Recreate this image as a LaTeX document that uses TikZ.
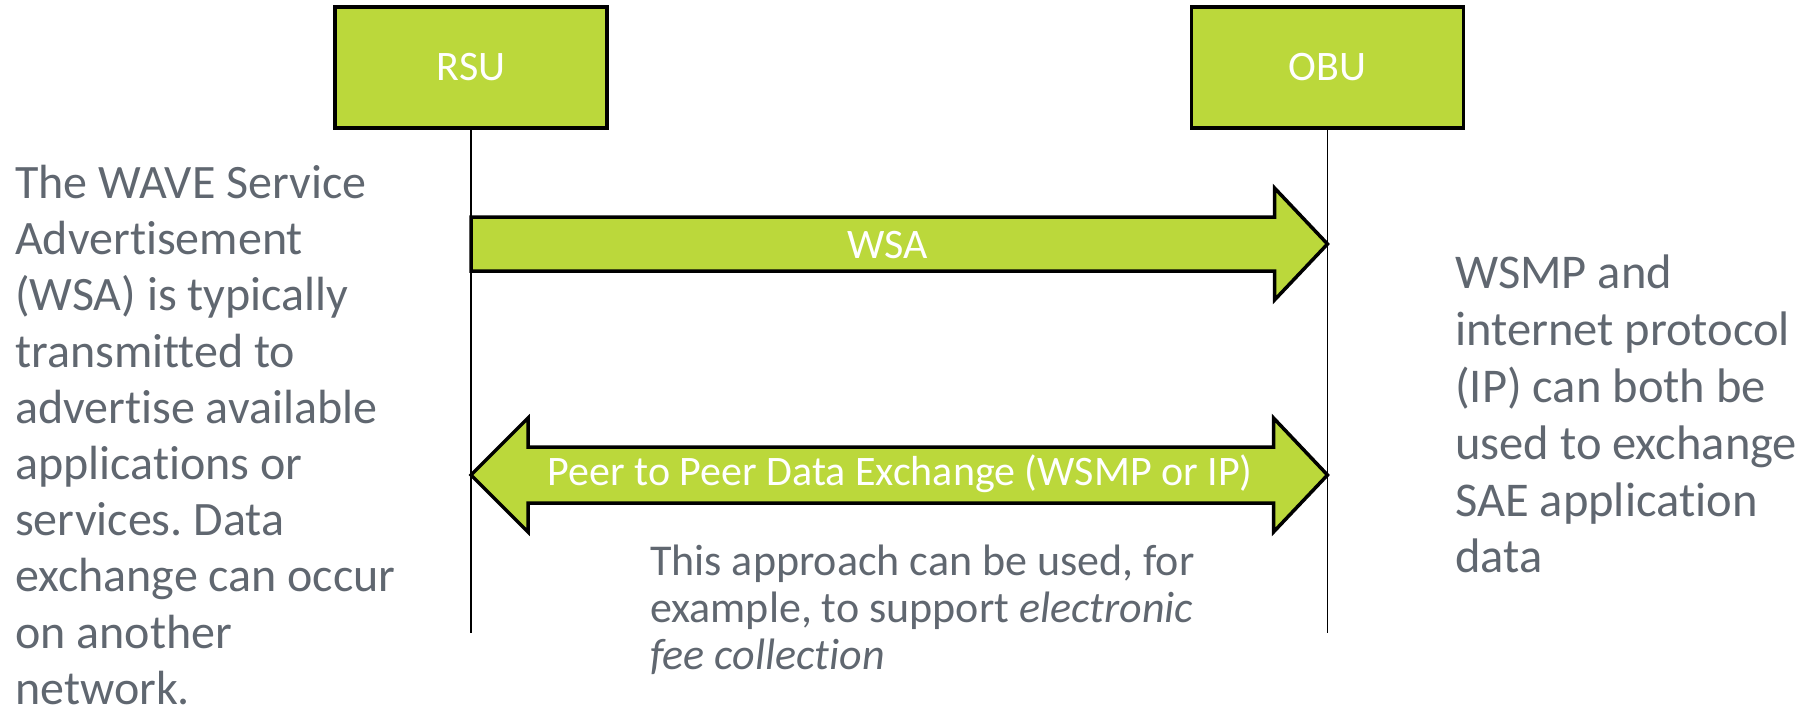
\documentclass[tikz,border=0pt]{standalone}
\usepackage{fontspec}
\setmainfont{Carlito}[Ligatures=NoCommon]
\usetikzlibrary{calc}
\definecolor{leaf}{RGB}{187,216,59}
\definecolor{note}{RGB}{96,103,112}
\frenchspacing

\tikzset{
  entity/.style={draw=black, line width=3.5pt, fill=leaf, text=white,
    minimum width=272pt, minimum height=121pt, inner sep=0pt,
    font=\fontsize{42}{50}\selectfont},
  lifeline/.style={draw=black, line width=1.5pt},
  blockarrow/.style={draw=black, line width=3.5pt, fill=leaf, line join=miter},
  arrowlabel/.style={text=white, inner sep=0pt, font=\fontsize{42}{50}\selectfont},
  sidenote/.style={text=note, inner sep=0pt, align=left, anchor=north west},
  footnote/.style={text=note, inner sep=0pt, align=left, anchor=north west,
    font=\fontsize{44}{47}\selectfont}
}

\begin{document}
\begin{tikzpicture}[x=1pt, y=-1pt]
  \useasboundingbox (0,0) rectangle (1810,721);

  % the two communicating units
  \node[entity] (rsu) at (471,67.5) {RSU};
  \node[entity] (obu) at (1327.5,67.5) {OBU};

  % lifelines
  \coordinate (rsuEnd) at (rsu.south |- 0,633);
  \coordinate (obuEnd) at (obu.south |- 0,633);
  \draw[lifeline] (rsu.south) -- (rsuEnd);
  \draw[lifeline] (obu.south) -- (obuEnd);

  % WSA: one-way block arrow from RSU to OBU
  \coordinate (wsaL) at (rsu.south |- 0,244);
  \coordinate (wsaR) at (obu.south |- 0,244);
  \draw[blockarrow]
    ($(wsaL)+(0,-27)$) -- ($(wsaR)+(-53,-27)$) -- ($(wsaR)+(-53,-56)$)
    -- (wsaR) -- ($(wsaR)+(-53,56)$) -- ($(wsaR)+(-53,27)$)
    -- ($(wsaL)+(0,27)$) -- cycle;
  \node[arrowlabel] (wsa) at (888,245) {WSA};

  % peer-to-peer exchange: two-way block arrow
  \coordinate (p2pL) at (rsu.south |- 0,475);
  \coordinate (p2pR) at (obu.south |- 0,475);
  \draw[blockarrow]
    (p2pL) -- ($(p2pL)+(57,-57)$) -- ($(p2pL)+(57,-28)$)
    -- ($(p2pR)+(-54,-28)$) -- ($(p2pR)+(-54,-57)$) -- (p2pR)
    -- ($(p2pR)+(-54,57)$) -- ($(p2pR)+(-54,28)$)
    -- ($(p2pL)+(57,28)$) -- ($(p2pL)+(57,57)$) -- cycle;
  \node[arrowlabel] (p2p) at (900,474) {Peer to Peer Data Exchange (WSMP or IP)};

  % explanatory notes
  \node[sidenote, font=\fontsize{48}{56.2}\selectfont] (wsaNote) at (15,165) {The WAVE Service\\Advertisement\\(WSA) is typically\\transmitted to\\advertise available\\applications or\\services. Data\\exchange can occur\\on another\\network.};
  \node[sidenote, font=\fontsize{48.5}{56.8}\selectfont] (ipNote) at (1455,255) {WSMP and\\internet protocol\\(IP) can both be\\used to exchange\\SAE application\\data};
  \node[footnote] (feeNote) at (650,545) {This approach can be used, for\\example, to support \textit{electronic}\\\textit{fee collection}};
\end{tikzpicture}
\end{document}
